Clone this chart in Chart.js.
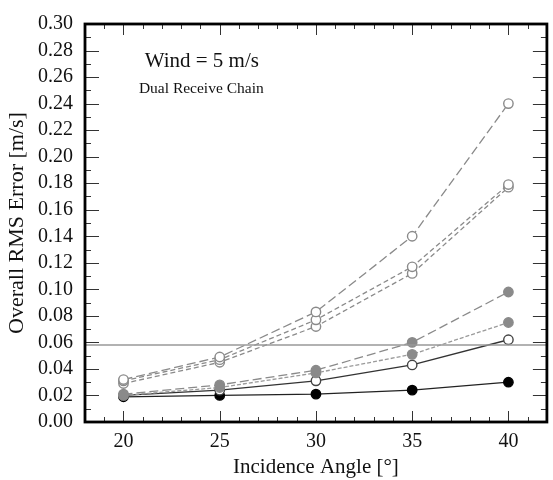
<!DOCTYPE html>
<html>
<head>
<meta charset="utf-8">
<script src="https://cdn.jsdelivr.net/npm/chart.js@4/dist/chart.umd.min.js"></script>
<style>
html,body{margin:0;padding:0;background:#fff;}
#wrap{width:553px;height:480px;}
</style>
</head>
<body>
<div id="wrap"><canvas id="c" width="553" height="480"></canvas></div>
<script>
// ---- data ----
const angles = [20, 25, 30, 35, 40];
const openLongDash   = [0.032, 0.049, 0.083, 0.140, 0.240];
const openShortDashA = [0.031, 0.047, 0.077, 0.117, 0.179];
const openShortDashB = [0.029, 0.045, 0.072, 0.112, 0.177];
const grayLongDash   = [0.021, 0.028, 0.039, 0.060, 0.098];
const grayShortDash  = [0.020, 0.026, 0.037, 0.051, 0.075];
const openSolid      = [0.020, 0.024, 0.031, 0.043, 0.062];
const blackSolid     = [0.019, 0.020, 0.021, 0.024, 0.030];
const thresholdValue = 0.058;
const xMin = 18, xMax = 42;
const yMin = 0, yMax = 0.30;
const xMajorTicks = [20, 25, 30, 35, 40];
const xMinorTicks = [18,19,21,22,23,24,26,27,28,29,31,32,33,34,36,37,38,39,41,42];
const yMajorTicks = [0,0.02,0.04,0.06,0.08,0.10,0.12,0.14,0.16,0.18,0.20,0.22,0.24,0.26,0.28,0.30];
const yMinorTicks = [0.01,0.03,0.05,0.07,0.09,0.11,0.13,0.15,0.17,0.19,0.21,0.23,0.25,0.27,0.29];
const annotationMain = "Wind = 5 m/s";
const annotationSub = "Dual Receive Chain";

const GRAY = '#8a8a8a';
const pts = arr => angles.map((a, i) => ({x: a, y: arr[i]}));

function ds(label, arr, line, dash, ptFill, ptBorder) {
  return {
    label, data: pts(arr),
    borderColor: line, borderWidth: 1.3, borderDash: dash,
    pointRadius: 4.7, pointBorderWidth: 1.4,
    pointBackgroundColor: ptFill, pointBorderColor: ptBorder,
    tension: 0, fill: false, clip: false
  };
}

const datasets = [
  {label:'threshold', data:[{x:xMin,y:thresholdValue},{x:xMax,y:thresholdValue}],
   borderColor:'#999', borderWidth:1.5, pointRadius:0, fill:false},
  ds('A', openLongDash, GRAY, [9,4], '#fff', GRAY),
  ds('B', openShortDashA, GRAY, [5,3], '#fff', GRAY),
  ds('C', openShortDashB, GRAY, [5,3], '#fff', GRAY),
  ds('D', grayLongDash, GRAY, [9,4], GRAY, GRAY),
  ds('E', grayShortDash, '#9a9a9a', [4,2], GRAY, GRAY),
  ds('F', openSolid, '#333', [], '#fff', '#444'),
  ds('G', blackSolid, '#222', [], '#000', '#000')
];

const frameTicks = {
  id: 'frameTicks',
  afterDatasetsDraw(chart) {
    const {ctx, chartArea: a, scales: {x, y}} = chart;
    ctx.save();
    ctx.strokeStyle = '#333';
    ctx.lineWidth = 1;
    const drawX = (vals, len) => vals.forEach(v => {
      const px = Math.round(x.getPixelForValue(v)) + 0.5;
      ctx.beginPath(); ctx.moveTo(px, a.bottom); ctx.lineTo(px, a.bottom - len); ctx.stroke();
      ctx.beginPath(); ctx.moveTo(px, a.top); ctx.lineTo(px, a.top + len); ctx.stroke();
    });
    const drawY = (vals, len) => vals.forEach(v => {
      const py = Math.round(y.getPixelForValue(v)) + 0.5;
      ctx.beginPath(); ctx.moveTo(a.left, py); ctx.lineTo(a.left + len, py); ctx.stroke();
      ctx.beginPath(); ctx.moveTo(a.right, py); ctx.lineTo(a.right - len, py); ctx.stroke();
    });
    drawX(xMajorTicks, 11); drawX(xMinorTicks, 5);
    drawY(yMajorTicks, 14); drawY(yMinorTicks, 6);
    ctx.strokeStyle = '#000';
    ctx.lineWidth = 2.8;
    ctx.strokeRect(a.left, a.top, a.right - a.left, a.bottom - a.top);
    // annotations
    ctx.fillStyle = '#111';
    ctx.textBaseline = 'middle';
    ctx.textAlign = 'left';
    ctx.font = '21px "Liberation Serif"';
    ctx.fillText(annotationMain, x.getPixelForValue(21.1), y.getPixelForValue(0.272));
    ctx.font = '15.5px "Liberation Serif"';
    ctx.fillText(annotationSub, x.getPixelForValue(20.8), y.getPixelForValue(0.251));
    ctx.restore();
  }
};

new Chart(document.getElementById('c'), {
  type: 'line',
  data: {datasets},
  options: {
    responsive: false,
    devicePixelRatio: 1,
    animation: false,
    layout: {padding: {top: 12, right: 5.5, left: 0, bottom: 0}},
    plugins: {legend: {display: false}, tooltip: {enabled: false}},
    scales: {
      x: {
        type: 'linear', min: xMin, max: xMax,
        afterBuildTicks: s => { s.ticks = xMajorTicks.map(v => ({value: v})); },
        afterFit: s => { s.height = 58; },
        grid: {display: false, drawTicks: false},
        border: {display: false},
        ticks: {color: '#111', padding: 8, autoSkip: false, maxRotation: 0,
                font: {family: 'Liberation Serif', size: 20}},
        title: {display: true, text: 'Incidence Angle [°]', color: '#111',
                font: {family: 'Liberation Serif', size: 21}, padding: {top: 0, bottom: 0}}
      },
      y: {
        min: yMin, max: yMax,
        afterBuildTicks: s => { s.ticks = yMajorTicks.map(v => ({value: v})); },
        afterFit: s => { s.width = 85; },
        grid: {display: false, drawTicks: false},
        border: {display: false},
        ticks: {color: '#111', padding: 12, autoSkip: false,
                font: {family: 'Liberation Serif', size: 20},
                callback: v => Number(v).toFixed(2)},
        title: {display: true, text: 'Overall RMS Error [m/s]', color: '#111',
                font: {family: 'Liberation Serif', size: 22}, padding: {top: 4, bottom: 0}}
      }
    }
  },
  plugins: [frameTicks]
});
</script>
</body>
</html>
